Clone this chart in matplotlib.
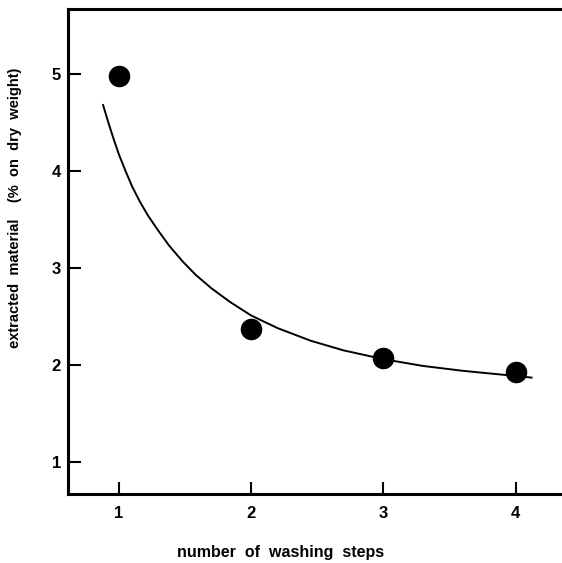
import matplotlib
matplotlib.use("Agg")
import matplotlib.pyplot as plt

plt.rcParams['font.family'] = ['Liberation Sans', 'DejaVu Sans']

# measured points
steps = [1, 2, 3, 4]
extracted = [4.98, 2.37, 2.07, 1.93]

# fitted curve
curve_x = [0.88, 0.92, 0.96, 1.00, 1.05, 1.10, 1.16, 1.22, 1.30, 1.38, 1.48,
           1.58, 1.70, 1.84, 2.00, 2.20, 2.45, 2.70, 3.00, 3.30, 3.60, 3.90, 4.12]
curve_y = [4.68, 4.50, 4.33, 4.17, 4.00, 3.84, 3.68, 3.54, 3.38, 3.23, 3.07,
           2.93, 2.79, 2.65, 2.51, 2.38, 2.25, 2.15, 2.06, 1.99, 1.94, 1.90, 1.87]

xticks = [1, 2, 3, 4]
yticks = [1, 2, 3, 4, 5]

fig = plt.figure(figsize=(5.62, 5.63), dpi=100)
ax = fig.add_axes([68 / 562, 1 - 494 / 563, 1 - 68 / 562, (494 - 9) / 563])

ax.plot(curve_x, curve_y, color='black', linewidth=1.4)
ax.plot(steps, extracted, 'o', color='black', markersize=14.5)

ax.set_xlim(0.615, 4.35)
ax.set_ylim(0.67, 5.67)
ax.set_xticks(xticks)
ax.set_yticks(yticks)

for side in ['left', 'top', 'bottom']:
    ax.spines[side].set_linewidth(2.2)
ax.spines['right'].set_visible(False)

ax.tick_params(direction='in', length=9, width=1.5, labelsize=12)
ax.tick_params(axis='x', pad=9)
ax.tick_params(axis='y', pad=5)
for lab in ax.get_xticklabels() + ax.get_yticklabels():
    lab.set_fontweight('bold')

ax.set_xlabel("number  of  washing  steps", fontsize=11.5, fontweight='bold')
ax.xaxis.set_label_coords(0.5, 1 - 553 / 563, transform=fig.transFigure)
ax.set_ylabel("extracted  material    (%  on  dry  weight)", fontsize=10.5,
              fontweight='bold')
ax.yaxis.set_label_coords(15 / 562, 1 - 208 / 563, transform=fig.transFigure)
ax.yaxis.label.set_verticalalignment('center')
ax.xaxis.label.set_verticalalignment('center')

fig.savefig("out.png", dpi=100)
